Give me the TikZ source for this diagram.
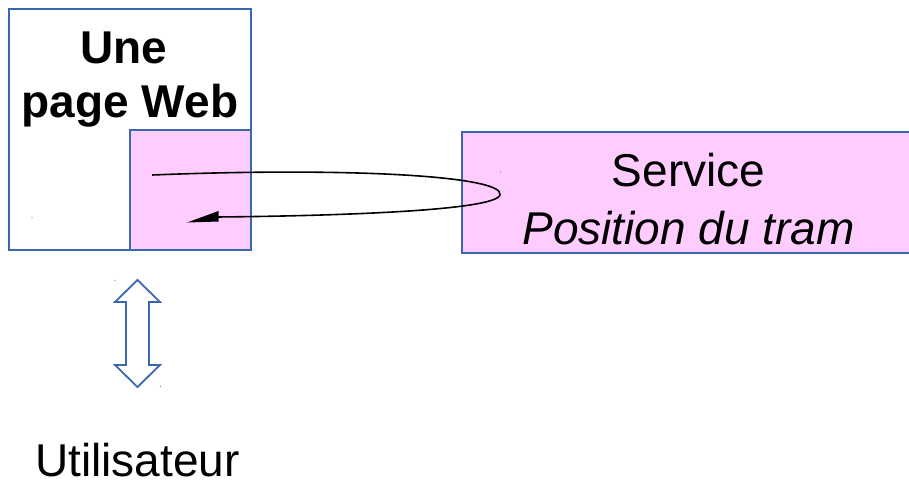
\documentclass[tikz,border=0pt]{standalone}
\usepackage{fontspec}
\setmainfont{Liberation Sans}
\definecolor{boxblue}{HTML}{3A68AE}
\definecolor{boxpink}{HTML}{FFCCFF}
\begin{document}
\begin{tikzpicture}[x=1pt,y=-1pt,
  frame/.style={draw=boxblue,line width=1.8pt,inner sep=0pt,outer sep=0pt},
  pinkbox/.style={frame,fill=boxpink},
  bigtext/.style={anchor=base,inner sep=0pt,font=\fontsize{46}{55}\selectfont},
  flow/.style={line width=1.6pt},
  dot/.style={fill=gray,circle,inner sep=0pt,minimum size=1.4pt}]
\useasboundingbox (0,0) rectangle (909,483);
% page box
\node[frame,fill=white,minimum width=242pt,minimum height=241pt] (page) at (130,129.5) {};
\node[pinkbox,minimum width=121pt,minimum height=120pt] (widget) at (190.5,190) {};
% service box
\node[pinkbox,minimum width=453pt,minimum height=121pt] (service) at (688.5,192.5) {};
% texts
\node[bigtext,font=\fontsize{46}{55}\selectfont\bfseries] (une) at (124,63) {Une};
\node[bigtext,font=\fontsize{46}{55}\selectfont\bfseries] (pageweb) at (130,117) {page Web};
\node[bigtext] (servt) at (688.5,186) {Service};
\node[bigtext,font=\fontsize{46}{55}\selectfont\itshape] (post) at (688.5,244) {Position du tram};
\node[bigtext] (user) at (137.5,476.5) {Utilisateur};
% request/response curve
\coordinate (cstart) at (152,175);
\coordinate (cturn) at (500,195);
\coordinate (cback) at (216,217);
\coordinate (cend) at (187,222.5);
\coordinate (chtop) at (218.5,211);
\coordinate (chbot) at (218.5,221.5);
\draw[flow] (cstart) .. controls (350,167) and (505,176) .. (cturn)
  .. controls (495,211) and (330,216) .. (cback);
\fill (cend) -- (chtop) -- (chbot) -- cycle;
% double arrow
\draw[draw=boxblue,line width=1.8pt,fill=white,line join=miter]
  (137.5,280) -- (160,302) -- (149,302) -- (149,365) -- (160,365) -- (137.5,387)
  -- (115,365) -- (126,365) -- (126,302) -- (115,302) -- cycle;
\node[dot] (d1) at (32,217.5) {};
\node[dot] (d2) at (500.5,172) {};
\node[dot] (d3) at (115,280.5) {};
\node[dot] (d4) at (160.5,386.5) {};
\end{tikzpicture}
\end{document}
